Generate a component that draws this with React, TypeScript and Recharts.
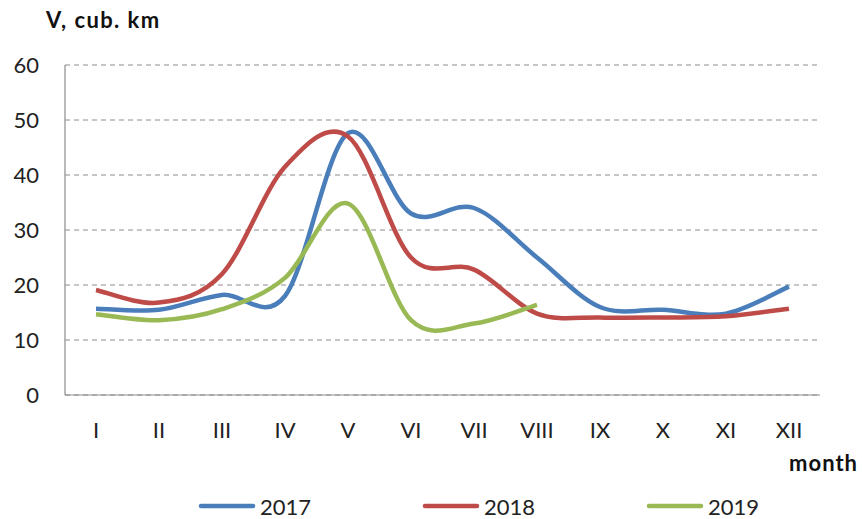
import { CartesianGrid, Legend, Line, LineChart, XAxis, YAxis } from "recharts";

const months = ["I", "II", "III", "IV", "V", "VI", "VII", "VIII", "IX", "X", "XI", "XII"];
const v2017 = [15.7, 15.5, 18.2, 18.0, 47.6, 33.0, 34.0, 25.0, 16.0, 15.5, 14.8, 19.7];
const v2018 = [19.1, 16.8, 22.0, 41.5, 47.0, 25.0, 22.8, 14.8, 14.1, 14.1, 14.3, 15.7];
const v2019 = [14.7, 13.6, 15.6, 21.3, 34.8, 13.6, 13.0, 16.4];
const yTicks = [0, 10, 20, 30, 40, 50, 60];

const series = [
  { key: "y2017", name: "2017", color: "#4A7EBB" },
  { key: "y2018", name: "2018", color: "#BE4B48" },
  { key: "y2019", name: "2019", color: "#98B954" },
];

const data = months.map((m, i) => ({
  month: m,
  y2017: v2017[i],
  y2018: v2018[i],
  y2019: i < v2019.length ? v2019[i] : null,
}));

const FONT = "Lato, 'Open Sans', sans-serif";

// excel-like smoothed line (catmull-rom through the points)
const smoothCurve = (context: any) => {
  let pts: number[][] = [];
  return {
    areaStart() {},
    areaEnd() {},
    lineStart() {
      pts = [];
    },
    point(x: number, y: number) {
      pts.push([+x, +y]);
    },
    lineEnd() {
      if (!pts.length) return;
      context.moveTo(pts[0][0], pts[0][1]);
      const n = pts.length;
      for (let i = 0; i < n - 1; i++) {
        const p0 = pts[Math.max(i - 1, 0)];
        const p1 = pts[i];
        const p2 = pts[i + 1];
        const p3 = pts[Math.min(i + 2, n - 1)];
        const t = 1 / 6;
        context.bezierCurveTo(
          p1[0] + (p2[0] - p0[0]) * t,
          p1[1] + (p2[1] - p0[1]) * t,
          p2[0] - (p3[0] - p1[0]) * t,
          p2[1] - (p3[1] - p1[1]) * t,
          p2[0],
          p2[1]
        );
      }
    },
  };
};

const LegendContent = () => (
  <div style={{ position: "relative", width: 862, height: 30, fontFamily: FONT }}>
    {series.map((s, i) => (
      <div
        key={s.key}
        style={{
          position: "absolute",
          left: 198 + i * 224,
          top: 0,
          display: "flex",
          alignItems: "center",
          height: 30,
        }}
      >
        <svg width={58} height={8} style={{ marginRight: 4 }}>
          <line x1={3} y1={4} x2={55} y2={4} stroke={s.color} strokeWidth={4.5} strokeLinecap="round" />
        </svg>
        <span style={{ fontSize: 22, color: "#222" }}>{s.name}</span>
      </div>
    ))}
  </div>
);

export default function App() {
  return (
    <div style={{ position: "absolute", left: 0, top: 0, width: 862, height: 519, background: "#fff" }}>
      <LineChart
        width={862}
        height={519}
        data={data}
        margin={{ top: 65, right: 42, bottom: 84, left: 0 }}
      >
        <CartesianGrid vertical={false} stroke="#8c8c8c" strokeDasharray="5 4" />
        <XAxis
          dataKey="month"
          height={40}
          padding={{ left: 31, right: 31 }}
          axisLine={{ stroke: "#8c8c8c", strokeWidth: 1.2 }}
          tickLine={false}
          tickSize={0}
          tickMargin={27}
          interval={0}
          tick={{ fontSize: 22, fill: "#222", fontFamily: FONT }}
        />
        <YAxis
          width={65}
          domain={[0, 60]}
          ticks={yTicks}
          axisLine={{ stroke: "#8c8c8c", strokeWidth: 1.2 }}
          tickLine={false}
          tickSize={0}
          tickMargin={26}
          tick={{ fontSize: 22, fill: "#222", fontFamily: FONT }}
        />
        {series.map((s) => (
          <Line
            key={s.key}
            dataKey={s.key}
            name={s.name}
            type={smoothCurve as any}
            stroke={s.color}
            strokeWidth={4.5}
            dot={false}
            activeDot={false}
            connectNulls={false}
            isAnimationActive={false}
          />
        ))}
        <Legend
          verticalAlign="middle"
          align="center"
          wrapperStyle={{ left: 0, top: 491, width: 862 }}
          content={LegendContent}
        />
        <text x={46} y={28} fontFamily={FONT} fontWeight="bold" fontSize={22} letterSpacing={1.4} fill="#111">
          V, cub. km
        </text>
        <text x={858} y={471} textAnchor="end" fontFamily={FONT} fontWeight="bold" fontSize={22} letterSpacing={1} fill="#111">
          month
        </text>
      </LineChart>
    </div>
  );
}
